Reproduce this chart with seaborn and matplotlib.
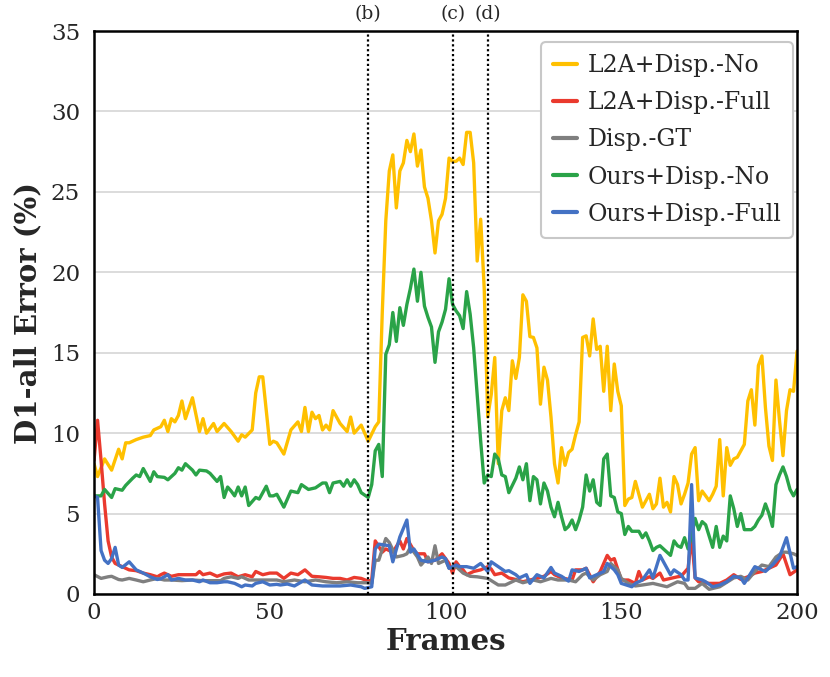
import pandas as pd
import matplotlib
matplotlib.use('Agg')
import matplotlib.pyplot as plt
import seaborn as sns

# frame indices / D1-all error (%)
l2a_no_x = [0, 1, 3, 5, 7, 8, 9, 10, 12, 14, 16, 17, 19, 20, 21, 22, 23, 24, 25, 26, 28, 30, 31, 32, 34, 35,
            37, 39, 41, 42, 43, 45, 46, 47, 48, 50, 51, 52, 54, 56, 58, 59, 60, 61, 62, 63, 64, 65, 66, 67,
            68, 70, 72, 73, 74, 76, 77, 78, 80, 81, 82, 83, 84, 85, 86, 87, 88, 89, 90, 91, 92, 93, 94, 95,
            96, 97, 98, 99, 100, 101, 102, 103, 104, 105, 106, 107, 108, 109, 110, 111, 112, 113, 114, 115,
            116, 117, 118, 119, 120, 121, 122, 123, 124, 125, 126, 127, 128, 129, 130, 131, 132, 133, 134,
            135, 136, 137, 138, 139, 140, 141, 142, 143, 144, 145, 146, 147, 148, 149, 150, 151, 152, 153,
            154, 155, 156, 158, 159, 160, 161, 162, 163, 164, 165, 166, 167, 168, 169, 170, 171, 172, 173,
            174, 175, 176, 177, 178, 179, 180, 181, 182, 183, 184, 185, 186, 187, 188, 189, 190, 191, 192,
            193, 194, 195, 196, 197, 198, 199, 200]
l2a_no_y = [8.1, 7.3, 8.4, 7.7, 9.0, 8.4, 9.4, 9.4, 9.6, 9.75, 9.85, 10.2, 10.4, 10.8, 10.1, 10.9, 10.7,
            11.1, 12.0, 10.9, 12.2, 10.1, 10.9, 10.0, 10.6, 10.1, 10.6, 10.1, 9.5, 9.9, 9.75, 10.2, 12.5,
            13.5, 13.5, 9.3, 9.5, 9.4, 8.7, 10.2, 10.7, 10.1, 11.6, 10.1, 11.3, 10.9, 11.1, 10.2, 10.5,
            10.2, 11.4, 10.6, 10.1, 11.0, 10.0, 10.5, 10.0, 9.5, 10.4, 10.7, 17.5, 23.2, 26.3, 27.3, 24.0,
            26.3, 26.8, 28.2, 27.5, 28.6, 26.6, 27.6, 25.3, 24.6, 23.2, 21.2, 23.2, 23.6, 24.6, 27.1, 26.9,
            26.9, 27.1, 26.7, 28.7, 28.7, 26.8, 20.7, 23.3, 19.0, 11.0, 12.4, 14.7, 8.1, 11.4, 12.2, 11.4,
            14.5, 13.4, 14.7, 18.6, 18.2, 16.0, 15.95, 15.3, 11.8, 14.1, 13.3, 11.0, 8.1, 6.9, 9.1, 8.0,
            8.8, 9.0, 9.9, 10.7, 15.95, 16.05, 14.8, 17.1, 15.2, 15.4, 12.6, 15.4, 11.4, 14.3, 12.6, 11.7,
            5.5, 5.9, 6.0, 7.0, 6.2, 5.4, 6.2, 5.3, 5.6, 7.2, 5.4, 5.7, 5.1, 7.3, 6.8, 5.6, 6.2, 6.9, 8.7,
            9.1, 5.8, 6.4, 6.1, 5.8, 6.2, 6.7, 9.6, 6.1, 9.1, 8.0, 8.4, 8.5, 8.9, 9.3, 12.0, 12.7, 10.5,
            14.2, 14.8, 11.6, 9.2, 8.3, 13.3, 10.8, 8.6, 11.4, 12.7, 12.6, 15.1]

l2a_full_x = [0, 1, 2, 3, 4, 5, 6, 8, 10, 12, 14, 16, 18, 19, 20, 22, 24, 27, 29, 30, 31, 33, 35, 37, 39,
              41, 43, 45, 46, 48, 50, 52, 54, 56, 58, 60, 62, 64, 66, 68, 70, 72, 74, 76, 78, 79, 80, 82,
              83, 85, 87, 88, 89, 91, 92, 94, 95, 97, 99, 101, 102, 103, 104, 105, 106, 108, 110, 112, 113,
              114, 116, 118, 120, 122, 124, 126, 128, 130, 131, 133, 136, 137, 139, 140, 142, 144, 146, 147,
              148, 150, 152, 154, 155, 156, 158, 159, 161, 162, 164, 166, 167, 169, 170, 171, 172, 175, 178,
              180, 182, 184, 186, 188, 190, 192, 194, 196, 198, 200]
l2a_full_y = [8.3, 10.8, 8.3, 5.6, 3.3, 2.3, 1.9, 1.7, 1.5, 1.45, 1.3, 1.2, 1.07, 1.2, 1.3, 1.1, 1.2, 1.2,
              1.2, 1.4, 1.2, 1.3, 1.1, 1.25, 1.3, 1.07, 1.2, 1.07, 1.4, 1.2, 1.3, 1.3, 0.97, 1.3, 1.2, 1.5,
              1.1, 1.07, 1.03, 0.97, 0.97, 0.87, 1.03, 0.97, 0.8, 0.87, 3.3, 2.6, 2.8, 2.6, 3.3, 2.8, 3.45,
              2.7, 2.5, 2.5, 2.0, 2.1, 2.5, 1.9, 1.3, 2.0, 1.7, 1.5, 1.2, 1.4, 1.5, 1.7, 1.55, 1.2, 1.3, 1.0,
              0.9, 0.76, 0.87, 0.97, 1.1, 1.4, 1.2, 1.0, 0.87, 1.5, 1.5, 1.6, 0.76, 1.4, 2.4, 2.1, 2.2, 0.87,
              0.87, 0.66, 1.4, 0.87, 1.07, 0.97, 1.3, 0.87, 0.97, 1.07, 1.1, 1.6, 3.6, 1.0, 0.76, 0.66, 0.66,
              0.87, 1.2, 0.91, 1.07, 1.3, 1.4, 1.6, 1.8, 2.5, 1.2, 1.5]

gt_x = [0, 2, 4, 5, 7, 8, 10, 12, 14, 16, 18, 20, 22, 25, 28, 31, 33, 36, 37, 39, 41, 42, 44, 46, 48, 50,
        52, 54, 57, 60, 63, 66, 69, 72, 75, 78, 79, 80, 81, 83, 84, 86, 88, 89, 90, 92, 93, 95, 96, 97, 98,
        100, 101, 103, 105, 107, 109, 112, 115, 117, 120, 122, 125, 127, 130, 132, 135, 137, 139, 140, 142,
        144, 146, 147, 149, 150, 152, 154, 156, 159, 163, 166, 168, 169, 171, 173, 175, 178, 182, 184, 186,
        188, 190, 192, 194, 196, 197, 199, 200]
gt_y = [1.2, 0.97, 1.07, 1.1, 0.9, 0.87, 0.97, 0.87, 0.76, 0.87, 0.97, 0.87, 0.87, 0.83, 0.87, 0.83, 0.83,
        0.83, 0.97, 1.07, 0.97, 1.07, 0.87, 0.87, 0.87, 0.87, 0.87, 0.76, 0.87, 0.76, 0.87, 0.76, 0.7, 0.76,
        0.7, 0.7, 0.66, 2.1, 2.1, 3.45, 3.2, 2.3, 2.4, 2.5, 2.9, 2.3, 1.8, 2.3, 1.9, 3.0, 1.9, 2.1, 1.6, 1.7,
        1.3, 1.1, 1.07, 0.97, 0.56, 0.56, 0.87, 0.7, 0.87, 0.76, 0.97, 0.87, 0.87, 0.76, 1.2, 1.3, 0.87,
        1.2, 1.4, 1.9, 1.5, 0.97, 0.66, 0.5, 0.56, 0.66, 0.45, 0.76, 0.66, 0.35, 0.35, 0.66, 0.29, 0.45,
        1.0, 1.1, 0.87, 1.4, 1.8, 1.7, 2.3, 2.6, 2.6, 2.5, 2.4]

ours_no_x = [0, 2, 3, 5, 6, 8, 9, 11, 12, 13, 14, 16, 17, 18, 20, 21, 23, 24, 25, 26, 28, 29, 30, 32, 33,
             35, 36, 37, 38, 39, 40, 41, 42, 43, 44, 46, 47, 48, 49, 50, 51, 52, 54, 56, 58, 59, 61, 63, 65,
             66, 67, 68, 70, 71, 72, 73, 74, 75, 76, 78, 79, 80, 81, 82, 83, 84, 85, 86, 87, 88, 89, 90, 91,
             92, 93, 94, 95, 96, 97, 98, 99, 100, 101, 102, 103, 104, 105, 106, 107, 108, 109, 110, 111, 112,
             113, 114, 115, 116, 117, 118, 120, 121, 122, 123, 124, 125, 126, 127, 128, 129, 130, 131, 132,
             133, 134, 135, 136, 137, 138, 139, 140, 141, 142, 143, 144, 145, 146, 147, 148, 149, 150, 151,
             152, 153, 154, 155, 156, 157, 158, 159, 160, 161, 163, 164, 165, 166, 167, 168, 169, 170, 171,
             172, 173, 174, 175, 176, 177, 178, 179, 180, 181, 182, 183, 184, 185, 187, 188, 189, 190, 191,
             192, 193, 194, 195, 196, 197, 198, 199, 200]
ours_no_y = [6.1, 6.1, 6.5, 6.0, 6.55, 6.45, 6.75, 7.2, 7.4, 7.3, 7.8, 7.0, 7.6, 7.3, 7.25, 7.1, 7.5, 7.85,
             7.7, 8.1, 7.7, 7.4, 7.7, 7.65, 7.5, 7.0, 7.3, 6.0, 6.65, 6.4, 6.1, 6.65, 6.1, 6.65, 5.5, 6.0,
             5.9, 6.3, 6.7, 6.1, 6.1, 6.2, 5.4, 6.4, 6.3, 6.8, 6.5, 6.6, 6.9, 6.9, 6.3, 6.9, 7.0, 6.7, 7.1,
             6.7, 7.1, 6.8, 6.3, 6.0, 6.8, 8.9, 9.3, 7.3, 14.9, 15.5, 17.5, 15.7, 17.8, 16.7, 18.0, 19.0, 20.2,
             18.2, 20.0, 17.9, 17.2, 16.6, 14.4, 16.3, 16.9, 17.7, 19.6, 18.0, 17.6, 17.3, 16.5, 18.8, 17.4,
             15.3, 12.4, 9.5, 6.9, 7.4, 7.3, 8.7, 8.4, 7.4, 7.3, 6.3, 7.2, 7.9, 7.1, 8.1, 5.8, 7.3, 7.1, 5.6,
             6.9, 6.4, 5.4, 4.8, 5.7, 4.8, 4.0, 4.2, 4.6, 4.0, 4.6, 5.4, 7.4, 6.4, 7.1, 5.7, 5.5, 8.4, 8.7,
             6.1, 6.0, 5.1, 5.0, 3.7, 4.2, 3.9, 3.9, 3.9, 3.5, 3.8, 3.3, 2.7, 2.9, 3.0, 2.6, 2.4, 3.3, 3.0,
             2.9, 3.5, 2.8, 3.6, 4.7, 4.0, 4.5, 4.3, 3.6, 2.9, 4.2, 2.9, 3.6, 3.3, 6.1, 5.3, 4.2, 5.0, 4.0,
             4.0, 4.2, 4.6, 4.9, 5.6, 5.0, 4.2, 6.8, 7.4, 7.9, 7.3, 6.5, 6.1, 6.5]

ours_full_x = [0, 1, 2, 3, 4, 5, 6, 7, 8, 10, 12, 14, 16, 18, 19, 21, 22, 24, 26, 28, 30, 31, 33, 35, 37,
               38, 40, 42, 43, 45, 46, 48, 50, 52, 53, 55, 57, 60, 62, 65, 68, 70, 73, 76, 77, 79, 80, 81,
               84, 85, 87, 89, 90, 91, 93, 95, 97, 99, 100, 101, 103, 104, 106, 108, 110, 112, 113, 115, 117,
               118, 120, 121, 123, 124, 126, 128, 130, 131, 133, 135, 136, 138, 140, 141, 143, 145, 146, 148,
               149, 150, 153, 154, 156, 158, 159, 161, 163, 164, 165, 167, 168, 169, 170, 171, 173, 174, 176,
               178, 180, 182, 184, 185, 186, 188, 189, 191, 193, 195, 197, 199, 200]
ours_full_y = [6.1, 6.0, 2.7, 2.1, 1.9, 2.2, 2.9, 1.8, 1.65, 2.0, 1.5, 1.3, 1.07, 0.9, 0.95, 1.2, 0.87,
               0.97, 0.87, 0.87, 0.76, 0.87, 0.7, 0.7, 0.76, 0.76, 0.66, 0.45, 0.56, 0.5, 0.66, 0.76, 0.56,
               0.6, 0.56, 0.62, 0.5, 0.87, 0.56, 0.5, 0.5, 0.5, 0.56, 0.45, 0.35, 0.45, 2.8, 3.1, 3.0, 2.0,
               3.55, 4.6, 2.6, 2.8, 2.1, 2.0, 2.1, 2.3, 2.2, 1.6, 1.8, 1.7, 1.7, 1.6, 1.9, 1.4, 2.0, 1.7, 1.4,
               1.45, 1.2, 1.0, 1.2, 0.66, 1.2, 1.0, 1.65, 1.3, 1.1, 0.8, 1.5, 1.4, 1.6, 1.0, 1.2, 1.4, 1.9,
               1.5, 1.2, 0.66, 0.45, 0.66, 0.87, 1.5, 1.0, 2.4, 1.6, 1.2, 1.5, 1.2, 0.87, 0.87, 6.8, 1.0, 0.87,
               0.76, 0.45, 0.56, 0.76, 1.1, 1.0, 0.66, 1.0, 1.7, 1.6, 1.4, 1.8, 2.3, 3.5, 1.6, 1.7]

series_names = ['L2A+Disp.-No', 'L2A+Disp.-Full', 'Disp.-GT', 'Ours+Disp.-No', 'Ours+Disp.-Full']
series_x = [l2a_no_x, l2a_full_x, gt_x, ours_no_x, ours_full_x]
series_y = [l2a_no_y, l2a_full_y, gt_y, ours_no_y, ours_full_y]
colors = ['#FFC000', '#EA3A2E', '#7F7F7F', '#2AA348', '#4472C4']

marker_frames = [78, 102, 112]
marker_labels = ['(b)', '(c)', '(d)']

frames = []
for name, xs, ys in zip(series_names, series_x, series_y):
    frames.append(pd.DataFrame({'frame': xs, 'err': ys, 'method': name}))
df = pd.concat(frames, ignore_index=True)

sns.set_style('white')
plt.rcParams['font.family'] = ['DejaVu Serif']

fig = plt.figure(figsize=(8.3, 6.77), dpi=100)
ax = fig.add_axes([0.1133, 0.1226, 0.847, 0.8316])

ax.yaxis.grid(True, color='#d9d9d9', linewidth=1.3)
ax.set_axisbelow(True)

sns.lineplot(data=df, x='frame', y='err', hue='method', hue_order=series_names,
             palette=colors, estimator=None, sort=False, linewidth=2.4, ax=ax)

# dotted markers for the example frames
for f, lab in zip(marker_frames, marker_labels):
    ax.axvline(f, color='black', linestyle=(0, (1, 1.2)), linewidth=1.6, zorder=5)
    ax.text(f, 35.5, lab, ha='center', va='bottom', fontsize=13.5)

ax.set_xlim(0, 200)
ax.set_ylim(0, 35)
ax.set_xticks([0, 50, 100, 150, 200])
ax.set_yticks([0, 5, 10, 15, 20, 25, 30, 35])
ax.tick_params(axis='x', direction='in', length=6, width=1.5, labelsize=16.5, pad=6)
ax.tick_params(axis='y', direction='out', length=6, width=1.5, labelsize=16.5, pad=4)

for s in ax.spines.values():
    s.set_color('black')
    s.set_linewidth(1.8)

ax.set_xlabel('Frames', fontsize=21, fontweight='bold', labelpad=2)
ax.set_ylabel('D1-all Error (%)', fontsize=21, fontweight='bold', labelpad=6)

leg = ax.legend(loc='upper right', bbox_to_anchor=(0.9943, 0.980), fontsize=17, frameon=True,
                fancybox=True, handlelength=1.0, handletextpad=0.45, labelspacing=0.6,
                borderpad=0.5, borderaxespad=0.0)
leg.get_frame().set_edgecolor('#c8c8c8')
leg.get_frame().set_linewidth(1.5)
leg.get_frame().set_alpha(1)
for line in leg.get_lines():
    line.set_linewidth(3)

fig.savefig('out.png', dpi=100)
